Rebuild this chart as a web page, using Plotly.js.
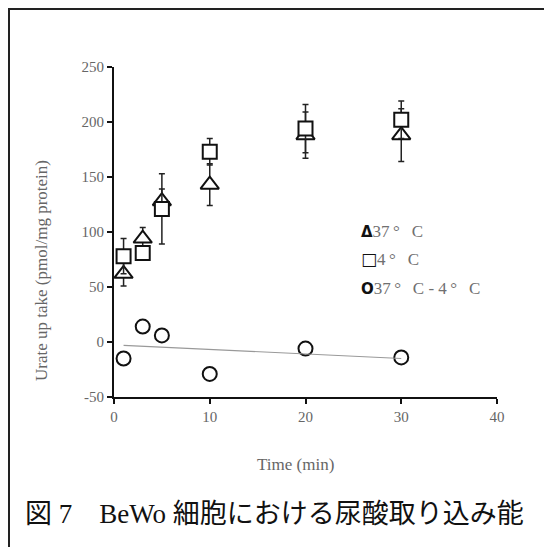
<!DOCTYPE html>
<html>
<head>
<meta charset="utf-8">
<script src="https://cdn.plot.ly/plotly-3.0.1.min.js"></script>
<style>
  html, body { margin: 0; padding: 0; background: #fff; }
  #wrap { position: relative; width: 544px; height: 547px; overflow: hidden; }
  #chart { position: absolute; left: 0; top: 0; width: 544px; height: 547px; }
  #frame { position: absolute; left: 8px; top: 8px; width: 560px; height: 560px;
           border-left: 2px solid #222; border-top: 2px solid #222; pointer-events: none; }
</style>
</head>
<body>
<div id="wrap">
  <div id="chart"></div>
  <div id="frame"></div>
</div>
<script>
// ---- data ----
const timeMin   = [1, 3, 5, 10, 20, 30];
const uptake37  = [62, 94, 128, 143, 188, 188];
const err37     = [11, 10, 11, 19, 21, 24];
const uptake4   = [78, 81, 121, 173, 194, 202];
const err4      = [16, 5, 32, 12, 22, 17];
const uptakeDiff = [-15, 14, 6, -29, -6, -14];
const trendX    = [1, 30];
const trendY    = [-3, -15];

const xTicks = [0, 10, 20, 30, 40];
const yTicks = [-50, 0, 50, 100, 150, 200, 250];

const seriesNames  = ["37° C", "4° C", "37° C - 4° C"];
const legendGlyphs = ["Δ", "□", "O"];
const legendLabels = ["37\u2009°\u2002\u2009C", "4\u2009°\u2002\u2009C", "37\u2009°\u2002\u2009C - 4\u2009°\u2002\u2009C"];

const xTitle = "Time (min)";
const yTitle = "Urate up take (pmol/mg protein)";
const caption = "図 7\u3000BeWo 細胞における尿酸取り込み能";

// ---- traces ----
const serif = "Liberation Serif, Times New Roman, serif";
const errStyle = (arr) => ({type: 'data', symmetric: true, array: arr, color: '#222', thickness: 1.5, width: 3});

const traces = [
  {
    name: seriesNames[0], x: timeMin, y: uptake37, mode: 'markers', type: 'scatter',
    error_y: errStyle(err37),
    marker: {symbol: 'triangle-up', size: 16, color: '#fff', line: {color: '#111', width: 2}},
    showlegend: false
  },
  {
    name: seriesNames[1], x: timeMin, y: uptake4, mode: 'markers', type: 'scatter',
    error_y: errStyle(err4),
    marker: {symbol: 'square', size: 14, color: '#fff', line: {color: '#111', width: 2}},
    showlegend: false
  },
  {
    name: seriesNames[2], x: timeMin, y: uptakeDiff, mode: 'markers', type: 'scatter',
    marker: {symbol: 'circle', size: 14, color: '#fff', line: {color: '#111', width: 2}},
    showlegend: false
  },
  {
    name: 'trend', x: trendX, y: trendY, mode: 'lines', type: 'scatter',
    line: {color: '#999', width: 1.2},
    showlegend: false, hoverinfo: 'skip'
  }
];

// ---- legend as text annotations (glyph + label) ----
const legendY = [0.501, 0.417, 0.330];
const glyphFont = ["DejaVu Sans", "DejaVu Sans", "DejaVu Sans"];
const glyphSize = [15, 17, 15];
const annotations = legendLabels.map((lab, i) => ({
  xref: 'paper', yref: 'paper', x: 0.640, y: legendY[i],
  xanchor: 'left', yanchor: 'middle', showarrow: false,
  text: '<span style="font-family:' + glyphFont[i] + ';font-size:' + glyphSize[i] + 'px;color:#111"><b>' + legendGlyphs[i] + '</b></span>' + lab,
  font: {family: serif, size: 17, color: '#707070'}
}));

annotations.push({
  xref: 'paper', yref: 'paper', x: -0.188, y: 0.385, textangle: -90,
  xanchor: 'center', yanchor: 'middle', showarrow: false,
  text: yTitle, font: {family: serif, size: 17, color: '#666'}
});
annotations.push({
  xref: 'paper', yref: 'paper', x: 0.473, y: -0.206,
  xanchor: 'center', yanchor: 'middle', showarrow: false,
  text: xTitle, font: {family: serif, size: 17, color: '#666'}
});
annotations.push({
  xref: 'paper', yref: 'paper', x: 0.42, y: -0.3545,
  xanchor: 'center', yanchor: 'middle', showarrow: false,
  text: caption, font: {family: "Liberation Serif, Noto Sans CJK JP, serif", size: 27, color: '#111'}
});

const axisCommon = {
  showline: true, linecolor: '#111', linewidth: 2, mirror: false,
  ticks: 'outside', ticklen: 5, tickwidth: 2, tickcolor: '#111',
  showgrid: false, zeroline: false,
  tickfont: {family: serif, size: 15, color: '#666'}
};

const layout = {
  width: 544, height: 547,
  margin: {l: 114, r: 47, t: 67, b: 150, pad: 0},
  paper_bgcolor: 'rgba(0,0,0,0)', plot_bgcolor: 'rgba(0,0,0,0)',
  showlegend: false,
  xaxis: Object.assign({}, axisCommon, {range: [0, 40], tickvals: xTicks, ticktext: xTicks.map(String)}),
  yaxis: Object.assign({}, axisCommon, {range: [-50, 250], tickvals: yTicks, ticktext: yTicks.map(String)}),
  annotations: annotations
};

Plotly.newPlot('chart', traces, layout, {staticPlot: true, displayModeBar: false});
</script>
</body>
</html>
